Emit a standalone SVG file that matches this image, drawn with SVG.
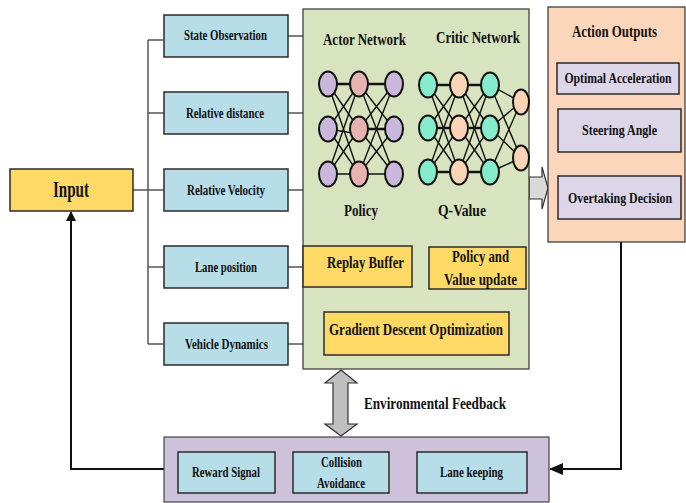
<svg xmlns="http://www.w3.org/2000/svg" width="686" height="503" viewBox="0 0 686 503">
<defs>
<style>
text{font-family:"Liberation Serif","Times New Roman",serif;font-weight:bold;fill:#111;text-anchor:middle}
.s14{font-size:14px}.s15{font-size:15px}.s16{font-size:17px}.s22{font-size:23px}.sb{font-size:15px}
.box{stroke:#2b2b2b;stroke-width:1.5}
.blue{fill:#b7dde8}.yellow{fill:#ffd966}.green{fill:#d8e4bf}.peach{fill:#fbd6ba}.lav{fill:#dcd6e8}.purple{fill:#cdc1db}
.bus{fill:none;stroke:#555;stroke-width:1.5}
.loop{fill:none;stroke:#111;stroke-width:2}
.edge{stroke:#111;stroke-width:1.4}
.hedge{stroke:#111;stroke-width:2.6}
.n{stroke:#111;stroke-width:2}
.ap{fill:#c9b8dc}.ak{fill:#e6b3b0}.ct{fill:#84ebcb}.co{fill:#fbd3b5}
.garrow{fill:#d9d9d9;stroke:#333;stroke-width:1.2}
</style>
<marker id="ah" markerWidth="10" markerHeight="10" refX="9" refY="5" orient="auto" markerUnits="userSpaceOnUse" viewBox="0 0 10 10">
<path d="M0,0 L10,5 L0,10 z" fill="#111"/>
</marker>
<marker id="ah2" markerWidth="14" markerHeight="12" refX="13" refY="6" orient="auto" markerUnits="userSpaceOnUse" viewBox="0 0 14 12">
<path d="M0,0 L14,6 L0,12 z" fill="#111"/>
</marker>
</defs>

<g id="connectors">
<path class="bus" d="M133,190 H148 M148,40 V344 M148,40 H164 M148,113 H164 M148,190 H164 M148,267 H164 M148,344 H164"/>
<path class="bus" d="M288,36 H303 M288,113 H303 M288,190 H303 M288,267 H303 M288,344 H303"/>
<path class="loop" d="M164,469 H71 V212" marker-end="url(#ah)"/>
<path class="loop" d="M621,242 V469 H550" marker-end="url(#ah2)"/>
<polygon class="garrow" points="529,177 542,177 542,167 548,188 542,209 542,199 529,199"/>
<polygon class="garrow" style="fill:#bfbfbf" points="341,370 357,383 348,383 348,424 357,424 341,436 325,424 333,424 333,383 325,383"/>
</g>

<g id="input">
<rect class="box yellow" x="10" y="169" width="123" height="42"/>
<text class="s22" x="71" y="197" textLength="36" lengthAdjust="spacingAndGlyphs">Input</text>
</g>

<g id="state-observation">
<rect class="box blue" x="164" y="15" width="124" height="42"/>
<text class="sb" x="225.5" y="40" textLength="83" lengthAdjust="spacingAndGlyphs">State Observation</text>
</g>
<g id="relative-distance">
<rect class="box blue" x="164" y="92" width="124" height="42"/>
<text class="sb" x="225" y="118" textLength="78" lengthAdjust="spacingAndGlyphs">Relative distance</text>
</g>
<g id="relative-velocity">
<rect class="box blue" x="164" y="169" width="124" height="42"/>
<text class="sb" x="226" y="195" textLength="78" lengthAdjust="spacingAndGlyphs">Relative Velocity</text>
</g>
<g id="lane-position">
<rect class="box blue" x="164" y="246" width="124" height="42"/>
<text class="sb" x="226" y="272" textLength="62" lengthAdjust="spacingAndGlyphs">Lane position</text>
</g>
<g id="vehicle-dynamics">
<rect class="box blue" x="164" y="323" width="124" height="42"/>
<text class="sb" x="226.5" y="349" textLength="83" lengthAdjust="spacingAndGlyphs">Vehicle Dynamics</text>
</g>

<g id="agent">
<rect x="303" y="9" width="226" height="360" class="green" stroke="#333" stroke-width="1.2"/>
<text class="s16" x="364.5" y="45" textLength="83" lengthAdjust="spacingAndGlyphs">Actor Network</text>
<text class="s16" x="478" y="43" textLength="84" lengthAdjust="spacingAndGlyphs">Critic Network</text>
<text class="s16" x="361" y="216" textLength="34" lengthAdjust="spacingAndGlyphs">Policy</text>
<text class="s16" x="462" y="216" textLength="48" lengthAdjust="spacingAndGlyphs">Q-Value</text>
</g>

<g id="actor-network">
<g class="edge">
<line x1="328" y1="84" x2="359" y2="129"/><line x1="328" y1="84" x2="359" y2="174"/>
<line x1="328" y1="129" x2="359" y2="84"/><line x1="328" y1="129" x2="359" y2="134"/><line x1="328" y1="129" x2="359" y2="174"/>
<line x1="328" y1="174" x2="359" y2="84"/><line x1="328" y1="174" x2="359" y2="129"/>
<line x1="359" y1="84" x2="394" y2="129"/><line x1="359" y1="84" x2="394" y2="174"/>
<line x1="359" y1="129" x2="394" y2="84"/><line x1="359" y1="129" x2="394" y2="174"/>
<line x1="359" y1="174" x2="394" y2="84"/><line x1="359" y1="174" x2="394" y2="129"/>
</g>
<g class="hedge">
<line x1="328" y1="84" x2="394" y2="84"/><line x1="359" y1="129" x2="394" y2="129"/>
</g>
<line class="edge" x1="328" y1="174" x2="394" y2="174"/>
<ellipse class="n ap" cx="328" cy="84" rx="9" ry="12.5"/>
<ellipse class="n ap" cx="328" cy="129" rx="9" ry="12.5"/>
<ellipse class="n ap" cx="328" cy="174" rx="9" ry="12.5"/>
<ellipse class="n ak" cx="359" cy="84" rx="9" ry="12.5"/>
<ellipse class="n ak" cx="359" cy="129" rx="9" ry="12.5"/>
<ellipse class="n ak" cx="359" cy="174" rx="9" ry="12.5"/>
<ellipse class="n ap" cx="394" cy="84" rx="9" ry="12.5"/>
<ellipse class="n ap" cx="394" cy="129" rx="9" ry="12.5"/>
<ellipse class="n ap" cx="394" cy="174" rx="9" ry="12.5"/>
</g>

<g id="critic-network">
<g class="edge">
<line x1="428" y1="85" x2="459" y2="128"/><line x1="428" y1="85" x2="459" y2="172"/>
<line x1="428" y1="128" x2="459" y2="85"/><line x1="428" y1="128" x2="459" y2="172"/>
<line x1="428" y1="172" x2="459" y2="85"/><line x1="428" y1="172" x2="459" y2="128"/>
<line x1="459" y1="85" x2="490" y2="128"/><line x1="459" y1="85" x2="490" y2="172"/>
<line x1="459" y1="128" x2="490" y2="85"/><line x1="459" y1="128" x2="490" y2="172"/>
<line x1="459" y1="172" x2="490" y2="85"/><line x1="459" y1="172" x2="490" y2="128"/>
<line x1="490" y1="85" x2="521" y2="102"/><line x1="490" y1="85" x2="521" y2="158"/>
<line x1="490" y1="128" x2="521" y2="102"/><line x1="490" y1="128" x2="521" y2="158"/>
<line x1="490" y1="172" x2="521" y2="102"/><line x1="490" y1="172" x2="521" y2="158"/>
</g>
<g class="hedge">
<line x1="428" y1="85" x2="490" y2="85"/><line x1="428" y1="128" x2="490" y2="128"/><line x1="428" y1="172" x2="490" y2="172"/>
</g>
<ellipse class="n ct" cx="428" cy="85" rx="9" ry="12.5"/>
<ellipse class="n ct" cx="428" cy="128" rx="9" ry="12.5"/>
<ellipse class="n ct" cx="428" cy="172" rx="9" ry="12.5"/>
<ellipse class="n co" cx="459" cy="85" rx="9" ry="12.5"/>
<ellipse class="n co" cx="459" cy="128" rx="9" ry="12.5"/>
<ellipse class="n co" cx="459" cy="172" rx="9" ry="12.5"/>
<ellipse class="n ct" cx="490" cy="85" rx="9" ry="12.5"/>
<ellipse class="n ct" cx="490" cy="128" rx="9" ry="12.5"/>
<ellipse class="n ct" cx="490" cy="172" rx="9" ry="12.5"/>
<ellipse class="n co" cx="521" cy="102" rx="8" ry="12.5"/>
<ellipse class="n co" cx="521" cy="158" rx="8" ry="12.5"/>
</g>

<g id="replay-buffer">
<rect class="box yellow" x="303" y="246" width="109" height="41"/>
<text class="s16" x="365.5" y="268" textLength="77" lengthAdjust="spacingAndGlyphs">Replay Buffer</text>
</g>
<g id="policy-value-update">
<rect class="box yellow" x="429" y="247" width="97" height="42"/>
<text class="s16" x="480.5" y="262" textLength="57" lengthAdjust="spacingAndGlyphs">Policy and</text>
<text class="s16" x="480.5" y="285" textLength="73" lengthAdjust="spacingAndGlyphs">Value update</text>
</g>
<g id="gradient-descent">
<rect class="box yellow" x="324" y="312" width="185" height="43"/>
<text class="s16" x="416" y="335" textLength="174" lengthAdjust="spacingAndGlyphs">Gradient Descent Optimization</text>
</g>

<g id="action-outputs">
<rect x="548" y="7" width="137" height="235" class="peach" stroke="#333" stroke-width="1.2"/>
<text class="s16" x="614.5" y="37" textLength="85" lengthAdjust="spacingAndGlyphs">Action Outputs</text>
</g>
<g id="optimal-acceleration">
<rect class="box lav" x="557" y="63" width="122" height="31"/>
<text class="s14" transform="translate(618,83) scale(0.84,1)" x="0" y="0">Optimal Acceleration</text>
</g>
<g id="steering-angle">
<rect class="box lav" x="558" y="109" width="123" height="43"/>
<text class="sb" x="619.5" y="135" textLength="75" lengthAdjust="spacingAndGlyphs">Steering Angle</text>
</g>
<g id="overtaking-decision">
<rect class="box lav" x="558" y="176" width="123" height="43"/>
<text class="s14" transform="translate(620,203) scale(0.85,1)" x="0" y="0">Overtaking Decision</text>
</g>

<g id="environmental-feedback-label">
<text class="s16" x="435" y="409" textLength="142" lengthAdjust="spacingAndGlyphs">Environmental Feedback</text>
</g>

<g id="environment">
<rect x="164" y="437" width="385" height="65" class="purple" stroke="#444" stroke-width="1.2"/>
</g>
<g id="reward-signal">
<rect class="box blue" x="178" y="452" width="97" height="41"/>
<text class="sb" x="226" y="477" textLength="68" lengthAdjust="spacingAndGlyphs">Reward Signal</text>
</g>
<g id="collision-avoidance">
<rect class="box blue" x="293" y="452" width="96" height="41"/>
<text class="sb" x="341.5" y="467" textLength="41" lengthAdjust="spacingAndGlyphs">Collision</text>
<text class="sb" x="341" y="488" textLength="48" lengthAdjust="spacingAndGlyphs">Avoidance</text>
</g>
<g id="lane-keeping">
<rect class="box blue" x="417" y="452" width="110" height="41"/>
<text class="sb" x="471.5" y="477" textLength="63" lengthAdjust="spacingAndGlyphs">Lane keeping</text>
</g>
</svg>
